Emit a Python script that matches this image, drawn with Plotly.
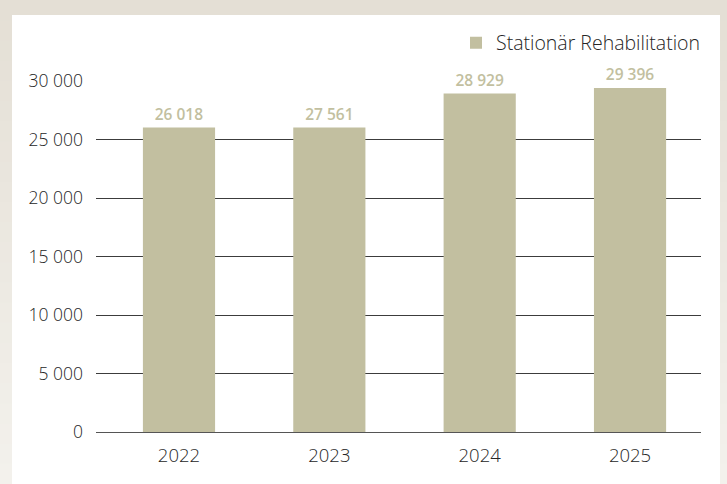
import plotly.graph_objects as go

years = ["2022", "2023", "2024", "2025"]
bar_values = [26018, 26020, 28929, 29396]
bar_labels = ["26 018", "27 561", "28 929", "29 396"]
series_name = "Stationär Rehabilitation"
y_ticks = [0, 5000, 10000, 15000, 20000, 25000, 30000]

BAR = "#c2bfa0"
TXT = "#262626"
FONT = "Open Sans"

W, H = 727, 484
L, R, T, B = 96, 26, 81, 52
pw, ph = W - L - R, H - T - B

def px_x(p):
    return (p - L) / pw

def px_y(p):
    return (H - B - p) / ph

fig = go.Figure()
fig.add_trace(go.Bar(
    x=years, y=bar_values, name=series_name,
    marker=dict(color=BAR, line=dict(width=0)),
    width=0.48,
    text=bar_labels, textposition="outside", cliponaxis=False,
    textfont=dict(family=FONT, size=15.5, color=BAR, weight=600),
    showlegend=True,
))

shapes = []
top_c = (228, 223, 213)
bot_c = (243, 241, 236)
n = 24
for i in range(n):
    t = i / (n - 1)
    c = tuple(round(top_c[k] + (bot_c[k] - top_c[k]) * t) for k in range(3))
    shapes.append(dict(type="rect", xref="paper", yref="paper", layer="below",
                       x0=px_x(0), x1=px_x(W),
                       y0=px_y(H * (i + 1) / n + 1), y1=px_y(H * i / n),
                       fillcolor="rgb(%d,%d,%d)" % c, line=dict(width=0)))
shapes.append(dict(type="rect", xref="paper", yref="paper", layer="below",
                   x0=px_x(12), x1=px_x(720), y0=px_y(H + 5), y1=px_y(15),
                   fillcolor="white", line=dict(width=0)))

fig.update_layout(
    width=W, height=H,
    margin=dict(l=L, r=R, t=T, b=B, pad=0, autoexpand=False),
    paper_bgcolor="rgb(228,223,213)",
    plot_bgcolor="white",
    separators=", ",
    font=dict(family=FONT, size=16, color=TXT, weight=300),
    shapes=shapes,
    legend=dict(orientation="h", x=px_x(706), xanchor="right", y=px_y(43), yanchor="middle",
                font=dict(family=FONT, size=19.5, color=TXT, weight=300),
                bgcolor="rgba(0,0,0,0)", itemwidth=30),
    xaxis=dict(type="category", range=[-0.552, 3.472], showgrid=False,
               showline=True, linecolor="#555555", linewidth=1,
               ticks="", tickfont=dict(family=FONT, size=18.5, color=TXT, weight=300),
               ticklabelstandoff=7, fixedrange=True, automargin=False),
    yaxis=dict(range=[0, 30000], tickvals=y_ticks, tickformat=",d",
               showgrid=True, gridcolor="#3c3c3c", gridwidth=1,
               zeroline=False, showline=False, ticks="",
               tickfont=dict(family=FONT, size=17.5, color=TXT, weight=300),
               ticklabelstandoff=12, fixedrange=True, automargin=False),
)

fig.write_html("out.html", config={"displayModeBar": False},
               post_script="document.body.style.margin='0';")
